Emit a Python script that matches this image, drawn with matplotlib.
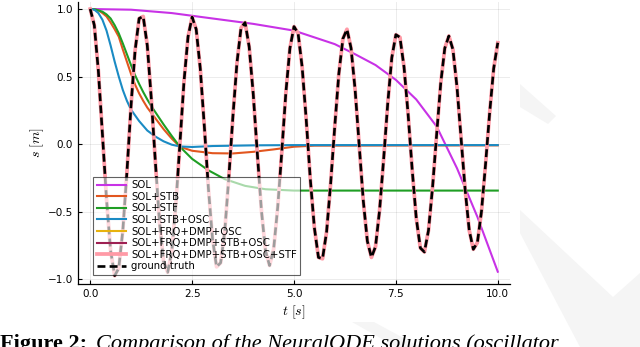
import matplotlib
matplotlib.use("Agg")
import matplotlib.pyplot as plt
from matplotlib.patches import Polygon

# ---------------- data ----------------
# ground truth sampled every 0.1 s
t_gt = [i / 10 for i in range(101)]
ground_truth = [
    1.00, 0.88, 0.54, 0.07, -0.41, -0.79, -0.975, -0.92, -0.64, -0.21,
    0.28, 0.69, 0.93, 0.945, 0.73, 0.33, -0.14, -0.58, -0.87, -0.95,
    -0.80, -0.45, 0.00, 0.46, 0.795, 0.94, 0.85, 0.56, 0.13, -0.33,
    -0.70, -0.91, -0.88, -0.65, -0.25, 0.20, 0.60, 0.86, 0.90, 0.72,
    0.37, -0.07, -0.49, -0.79, -0.90, -0.78, -0.47, -0.06, 0.38, 0.71,
    0.87, 0.82, 0.57, 0.18, -0.26, -0.62, -0.84, -0.85, -0.65, -0.29,
    0.13, 0.52, 0.78, 0.85, 0.71, 0.40, -0.01, -0.42, -0.72, -0.84,
    -0.76, -0.49, -0.11, 0.30, 0.64, 0.81, 0.79, 0.57, 0.22, -0.19,
    -0.55, -0.77, -0.80, -0.64, -0.32, 0.07, 0.45, 0.71, 0.80, 0.70,
    0.42, 0.04, -0.34, -0.64, -0.78, -0.73, -0.50, -0.15, 0.23, 0.56,
    0.75,
]
sol_frq_dmp_osc = ground_truth
sol_frq_dmp_stb_osc = ground_truth
sol_frq_dmp_stb_osc_stf = ground_truth

t_sol = [0, 1, 2, 3, 4, 5, 6, 6.5, 7, 7.5, 8, 8.5, 9, 9.5, 10]
sol = [1.0, 0.995, 0.97, 0.93, 0.89, 0.84, 0.74, 0.665, 0.585, 0.475,
       0.33, 0.13, -0.18, -0.54, -0.946]

t_stb = [0, 0.1, 0.2, 0.3, 0.4, 0.5, 0.6, 0.7, 0.8, 0.9, 1.0, 1.1, 1.2,
         1.3, 1.4, 1.5, 1.6, 1.8, 2.0, 2.2, 2.5, 3.0, 3.5, 4.0, 4.5, 5.0,
         5.5, 10]
sol_stb = [1.0, 0.998, 0.99, 0.97, 0.945, 0.90, 0.85, 0.795, 0.70, 0.61,
           0.52, 0.44, 0.375, 0.32, 0.27, 0.23, 0.19, 0.11, 0.04, -0.02,
           -0.05, -0.068, -0.07, -0.058, -0.04, -0.02, -0.012, -0.01]

t_stf = [0, 0.1, 0.2, 0.3, 0.4, 0.5, 0.6, 0.7, 0.8, 0.9, 1.0, 1.1, 1.2,
         1.3, 1.4, 1.5, 1.6, 1.8, 2.0, 2.2, 2.5, 2.9, 3.3, 3.8, 4.3, 5.0, 10]
sol_stf = [1.0, 0.998, 0.99, 0.98, 0.96, 0.93, 0.88, 0.82, 0.745, 0.665,
           0.585, 0.51, 0.445, 0.385, 0.33, 0.28, 0.235, 0.145, 0.06, -0.02,
           -0.11, -0.195, -0.26, -0.31, -0.335, -0.345, -0.345]

t_stb_osc = [0, 0.1, 0.2, 0.3, 0.4, 0.5, 0.6, 0.7, 0.8, 0.9, 1.0, 1.2, 1.4,
             1.6, 1.8, 2.0, 2.2, 2.5, 3.0, 4.0, 5.0, 10]
sol_stb_osc = [1.0, 0.995, 0.97, 0.92, 0.84, 0.73, 0.61, 0.50, 0.40, 0.32,
               0.255, 0.17, 0.10, 0.055, 0.02, -0.005, -0.018, -0.022,
               -0.015, -0.01, -0.008, -0.008]

labels = ["SOL", "SOL+STB", "SOL+STF", "SOL+STB+OSC", "SOL+FRQ+DMP+OSC",
          "SOL+FRQ+DMP+STB+OSC", "SOL+FRQ+DMP+STB+OSC+STF", "ground truth"]
colors = ["#c832e6", "#e2561f", "#1f9e24", "#1a8bc4", "#e8b20e",
          "#9e2052", "#ff9aa6", "black"]
xticks = [0.0, 2.5, 5.0, 7.5, 10.0]
yticks = [-1.0, -0.5, 0.0, 0.5, 1.0]

# ---------------- figure ----------------
plt.rcParams["mathtext.fontset"] = "cm"
fig = plt.figure(figsize=(6.4, 3.47), dpi=100)

# faint watermark shapes
wm = "#f5f5f5"
fig.patches.append(Polygon([(520/640, 1-84/347), (556/640, 1-116/347),
                            (548/640, 1-124/347), (520/640, 1-107/347)],
                           closed=True, transform=fig.transFigure,
                           facecolor=wm, edgecolor="none", zorder=-5))
fig.patches.append(Polygon([(520/640, 1-210/347), (613/640, 1-297/347),
                            (640/640, 1-273/347), (640/640, 0),
                            (580/640, 0), (520/640, 1-233/347)],
                           closed=True, transform=fig.transFigure,
                           facecolor=wm, edgecolor="none", zorder=-5))
fig.patches.append(Polygon([(352/640, 1-322/347), (374/640, 1-322/347),
                            (420/640, 0), (396/640, 0)],
                           closed=True, transform=fig.transFigure,
                           facecolor=wm, edgecolor="none", zorder=-5))

ax = fig.add_axes([78/640, 63/347, 432/640, 282/347])
ax.patch.set_alpha(0)

series = [(t_sol, sol, 1.5), (t_stb, sol_stb, 1.5), (t_stf, sol_stf, 1.5),
          (t_stb_osc, sol_stb_osc, 1.5), (t_gt, sol_frq_dmp_osc, 1.5),
          (t_gt, sol_frq_dmp_stb_osc, 1.5), (t_gt, sol_frq_dmp_stb_osc_stf, 2.7)]
for (tt, yy, lw), lab, c in zip(series, labels[:-1], colors[:-1]):
    ax.plot(tt, yy, color=c, lw=lw, label=lab)
ax.plot(t_gt, ground_truth, color="black", lw=1.9, ls=(0, (3, 1.6)),
        label=labels[-1])

ax.set_xlim(-0.3, 10.3)
ax.set_ylim(-1.037, 1.052)
ax.set_xticks(xticks)
ax.set_yticks(yticks)
ax.set_xticklabels([f"{v:.1f}" for v in xticks])
ax.set_yticklabels([f"{v:.1f}".replace("-", "\u2212") for v in yticks])
ax.tick_params(direction="in", length=3, width=0.8, labelsize=7.5, pad=3.6)
ax.grid(True, color="black", alpha=0.09, lw=0.6)
for s in ["top", "right"]:
    ax.spines[s].set_visible(False)
for s in ["left", "bottom"]:
    ax.spines[s].set_linewidth(0.9)

ax.set_xlabel(r"$t\ [s]$", fontsize=10)
ax.set_ylabel(r"$s\ [m]$", fontsize=10)
ax.xaxis.set_label_coords(0.5, -0.07)
ax.yaxis.set_label_coords(-0.075, 0.5)

leg = ax.legend(loc="lower left", bbox_to_anchor=(0.035, 0.032),
                borderaxespad=0, fontsize=7.3, handlelength=2.9,
                handletextpad=0.5, labelspacing=0.16, borderpad=0.35,
                framealpha=0.62, fancybox=False, edgecolor="black")
leg.get_frame().set_linewidth(0.8)

fig.text(0.0, -2/347, "Figure 2:", family="Liberation Serif",
         fontweight="bold", fontsize=16, va="baseline", ha="left")
fig.text(96/640, -2/347, "Comparison of the NeuralODE solutions (oscillator",
         family="Liberation Serif", style="italic", fontsize=16,
         va="baseline", ha="left")

fig.savefig("out.png", dpi=100)
